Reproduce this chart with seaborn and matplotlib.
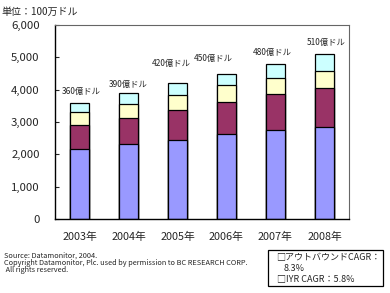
import numpy as np
import pandas as pd
import seaborn as sns
import matplotlib.pyplot as plt
from matplotlib.patches import Rectangle

# ---- data (unit: million USD) ----
years = ["2003年", "2004年", "2005年", "2006年", "2007年", "2008年"]
seg_blue = [2170, 2310, 2450, 2620, 2745, 2860]
seg_red = [730, 805, 910, 1000, 1110, 1200]
seg_yellow = [400, 435, 465, 515, 495, 520]
seg_cyan = [300, 350, 375, 365, 450, 520]
total_labels = ["360億ドル", "390億ドル", "420億ドル", "450億ドル", "480億ドル", "510億ドル"]
# ---------------------------------------------------------

sns.set_style("white")
plt.rcParams['font.family'] = ['Noto Sans CJK JP', 'DejaVu Sans']

fig = plt.figure(figsize=(3.9, 2.93), dpi=100)
ax = fig.add_axes([0.141, 0.2526, 0.754, 0.662])

segments = [seg_blue, seg_red, seg_yellow, seg_cyan]
colors = ["#9999FF", "#993366", "#FFFFCC", "#CCFFFF"]
cum = np.cumsum(np.array(segments), axis=0)

# draw cumulative sums from the top down so the stacks overlap
for level in range(len(segments) - 1, -1, -1):
    df = pd.DataFrame({"year": years, "value": cum[level]})
    sns.barplot(data=df, x="year", y="value", color=colors[level], saturation=1,
                width=0.39, edgecolor="black", linewidth=0.9, ax=ax)

# label offsets above each bar (pixels)
label_dx = [2, 0, -6, -13, -3, 2]
label_dy = [7, 4, 15, 11, 7, 7]
for i, txt in enumerate(total_labels):
    ax.annotate(txt, (i, cum[-1][i]), xytext=(label_dx[i], label_dy[i]),
                textcoords="offset pixels", ha="center", va="bottom", fontsize=6)

ax.set_ylim(0, 6000)
ax.set_yticks(range(0, 6001, 1000))
ax.set_yticklabels([f"{v:,}" for v in range(0, 6001, 1000)], fontsize=8.2)
ax.set_xticks(np.arange(-0.5, 6, 1), minor=True)
ax.tick_params(axis="x", which="major", length=0, labelsize=7.8, pad=9)
ax.tick_params(axis="x", which="minor", direction="in", length=3, width=0.8)
ax.tick_params(axis="y", direction="in", length=3, width=0.8, left=True, pad=11)
ax.set_xlabel("")
ax.set_ylabel("")
ax.set_xlim(-0.5, 5.5)
for side in ["left", "bottom"]:
    ax.spines[side].set_color("black")
    ax.spines[side].set_linewidth(1.0)
for side in ["top", "right"]:
    ax.spines[side].set_color("#666666")
    ax.spines[side].set_linewidth(0.8)

fig.text(0.003, 0.958, "単位：100万ドル", fontsize=7.2, ha="left", va="center")

src = ["Source: Datamonitor, 2004.",
       "Copyright Datamonitor, Plc. used by permission to BC RESEARCH CORP.",
       " All rights reserved."]
for k, line in enumerate(src):
    fig.text(0.011, 0.126 - k * 0.0245, line, fontsize=5.3, ha="left", va="center")

fig.add_artist(Rectangle((0.686, 0.024), 0.296, 0.123, transform=fig.transFigure,
                         facecolor="white", edgecolor="black", linewidth=0.9, zorder=0))
fig.text(0.709, 0.1195, "□アウトバウンドCAGR：", fontsize=6.5, ha="left", va="center")
fig.text(0.726, 0.0853, "8.3%", fontsize=6.5, ha="left", va="center")
fig.text(0.709, 0.0478, "□IYR CAGR：5.8%", fontsize=6.5, ha="left", va="center")

fig.savefig("out.png", dpi=100)
